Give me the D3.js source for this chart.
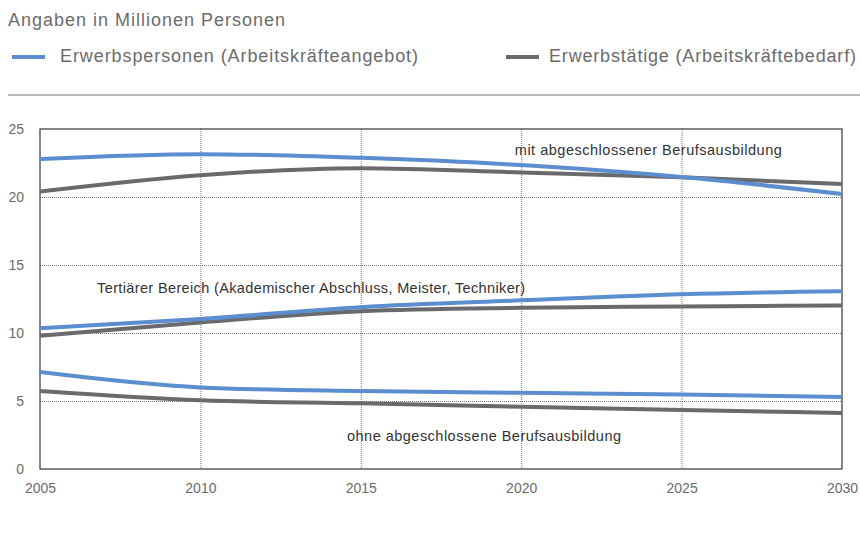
<!DOCTYPE html>
<html><head><meta charset="utf-8">
<script src="https://cdn.jsdelivr.net/npm/d3@7"></script>
<style>body{margin:0;background:#fff}svg{display:block;font-family:"Liberation Sans",Arial,sans-serif}</style>
</head><body><svg id="c" width="860" height="534"></svg>
<script>
const years = [2005, 2010, 2015, 2020, 2025, 2030];
const yTicks = [0, 5, 10, 15, 20, 25];
const seriesNames = ["Erwerbspersonen (Arbeitskräfteangebot)", "Erwerbstätige (Arbeitskräftebedarf)"];
const seriesColors = ["#5b8dcf", "#6a6a6d"];
// Erwerbspersonen (supply)
const supplyMit = [22.8, 23.15, 22.88, 22.35, 21.47, 20.22];
const supplyTert = [10.35, 11.03, 11.9, 12.4, 12.85, 13.07];
const supplyOhne = [7.13, 6.0, 5.73, 5.6, 5.47, 5.3];
// Erwerbstätige (demand)
const demandMit = [20.4, 21.6, 22.12, 21.8, 21.45, 20.95];
const demandTert = [9.8, 10.78, 11.6, 11.85, 11.95, 12.02];
const demandOhne = [5.73, 5.05, 4.83, 4.58, 4.34, 4.12];
const annotations = [
  {text: "mit abgeschlossener Berufsausbildung", year: 2019.8, value: 23.1, len: 267},
  {text: "Tertiärer Bereich (Akademischer Abschluss, Meister, Techniker)", year: 2006.78, value: 12.95, len: 428},
  {text: "ohne abgeschlossene Berufsausbildung", year: 2014.57, value: 2.05, len: 274}
];

const svg = d3.select("#c");
const x = d3.scaleLinear().domain([2005, 2030]).range([40, 842]);
const y = d3.scaleLinear().domain([0, 25]).range([469, 129]);

// header
svg.append("text").attr("x", 8).attr("y", 26).attr("font-size", 18)
  .attr("textLength", 277).attr("lengthAdjust", "spacing")
  .attr("fill", "#6b6b6b").text("Angaben in Millionen Personen");
const legX = [12, 506], legTextX = [60, 549], legLen = [358, 307];
seriesNames.forEach((n, i) => {
  svg.append("line").attr("x1", legX[i]).attr("x2", legX[i] + 33).attr("y1", 57).attr("y2", 57)
    .attr("stroke", seriesColors[i]).attr("stroke-width", 4);
  svg.append("text").attr("x", legTextX[i]).attr("y", 62).attr("font-size", 18)
    .attr("textLength", legLen[i]).attr("lengthAdjust", "spacing")
    .attr("fill", "#6b6b6b").text(n);
});
svg.append("line").attr("x1", 8).attr("x2", 860).attr("y1", 95).attr("y2", 95).attr("stroke", "#777").attr("stroke-width", 1.2);

// grid
const g = svg.append("g");
g.selectAll(".hg").data(yTicks.filter(t => t > 0 && t < 25)).join("line")
  .attr("x1", 40).attr("x2", 842).attr("y1", d => y(d) + 0.5).attr("y2", d => y(d) + 0.5)
  .attr("stroke", "#777").attr("stroke-width", 1).attr("stroke-dasharray", "1,1");
g.selectAll(".vg").data(years.filter(t => t > 2005 && t < 2030)).join("line")
  .attr("x1", d => x(d) + 0.5).attr("x2", d => x(d) + 0.5).attr("y1", 129).attr("y2", 469)
  .attr("stroke", "#777").attr("stroke-width", 1).attr("stroke-dasharray", "1,1");

// axes
const yAxis = svg.append("g").attr("transform", "translate(40,0)").call(d3.axisLeft(y).tickValues(yTicks).tickSize(0).tickPadding(16));
yAxis.select(".domain").remove();
yAxis.selectAll("text").attr("font-size", 14).attr("fill", "#6b6b6b").attr("font-family", "Liberation Sans, Arial");
const xAxis = svg.append("g").attr("transform", "translate(0,469)").call(d3.axisBottom(x).tickValues(years).tickFormat(d3.format("d")).tickSize(0).tickPadding(14));
xAxis.select(".domain").remove();
xAxis.selectAll("text").attr("font-size", 14).attr("fill", "#6b6b6b").attr("font-family", "Liberation Sans, Arial");

// frame
svg.append("rect").attr("x", 40).attr("y", 129).attr("width", 802).attr("height", 340)
  .attr("fill", "none").attr("stroke", "#444").attr("stroke-width", 1.3);

// lines
const line = d3.line().x((d, i) => x(years[i])).y(d => y(d)).curve(d3.curveMonotoneX);
const all = [[demandMit, 1], [supplyMit, 0], [demandTert, 1], [supplyTert, 0], [demandOhne, 1], [supplyOhne, 0]];
all.forEach(([vals, s]) => {
  svg.append("path").attr("d", line(vals)).attr("fill", "none").attr("stroke", seriesColors[s])
    .attr("stroke-width", 4).attr("stroke-linecap", "butt");
});

// annotations
annotations.forEach(a => {
  svg.append("text").attr("x", x(a.year)).attr("y", y(a.value)).attr("font-size", 14.5)
    .attr("textLength", a.len).attr("lengthAdjust", "spacing")
    .attr("fill", "#333").text(a.text);
});
</script></body></html>
